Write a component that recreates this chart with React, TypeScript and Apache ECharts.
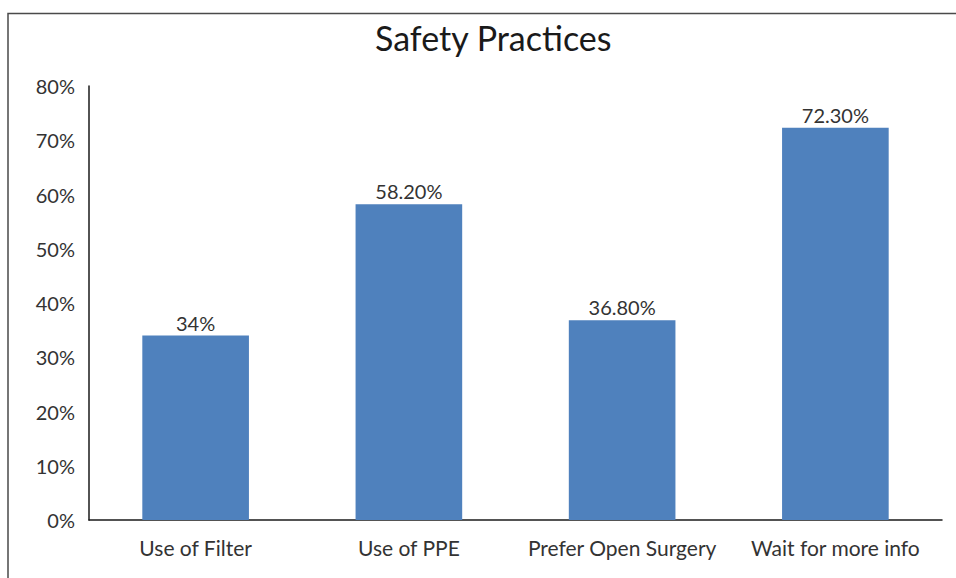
import React, { useEffect, useRef } from "react";
import * as echarts from "echarts";

const categories = ["Use of Filter", "Use of PPE", "Prefer Open Surgery", "Wait for more info"];
const values = [34, 58.2, 36.8, 72.3];
const valueLabels = ["34%", "58.20%", "36.80%", "72.30%"];
const title = "Safety Practices";

export default function App() {
  const ref = useRef<HTMLDivElement>(null);
  useEffect(() => {
    if (!ref.current) return;
    const chart = echarts.init(ref.current, null, { renderer: "svg" });
    const font = "Lato, 'Open Sans', sans-serif";
    chart.setOption({
      animation: false,
      backgroundColor: "#ffffff",
      title: {
        text: title,
        left: 370,
        top: 15,
        textStyle: { fontFamily: font, fontSize: 34, fontWeight: "normal", color: "#1a1a1a" },
      },
      grid: { left: 89, right: 14, top: 86, bottom: 58, containLabel: false },
      xAxis: {
        type: "category",
        data: categories,
        axisLine: { show: true, lineStyle: { color: "#1a1a1a", width: 1.5 } },
        axisTick: { show: false },
        axisLabel: { fontFamily: font, fontSize: 21, color: "#333", margin: 17, interval: 0, hideOverlap: false },
      },
      yAxis: {
        type: "value",
        min: 0,
        max: 80,
        interval: 10,
        axisLine: { show: true, lineStyle: { color: "#1a1a1a", width: 1.5 } },
        axisTick: { show: false },
        splitLine: { show: false },
        axisLabel: { fontFamily: font, fontSize: 20, color: "#333", margin: 14, formatter: "{value}%" },
      },
      series: [
        {
          type: "bar",
          data: values,
          barWidth: "50%",
          itemStyle: { color: "#4F81BD" },
          label: {
            show: true,
            position: "top",
            distance: 3,
            fontFamily: font,
            fontSize: 20,
            color: "#333",
            formatter: (p: any) => valueLabels[p.dataIndex],
          },
        },
      ],
      graphic: [
        {
          type: "rect",
          shape: { x: 8, y: 13.5, width: 1000, height: 1000 },
          style: { fill: "none", stroke: "#4a4a4a", lineWidth: 1.5 },
          silent: true,
        },
      ],
    });
    return () => chart.dispose();
  }, []);
  return <div ref={ref} style={{ position: "fixed", left: 0, top: 0, width: 956, height: 578 }} />;
}
